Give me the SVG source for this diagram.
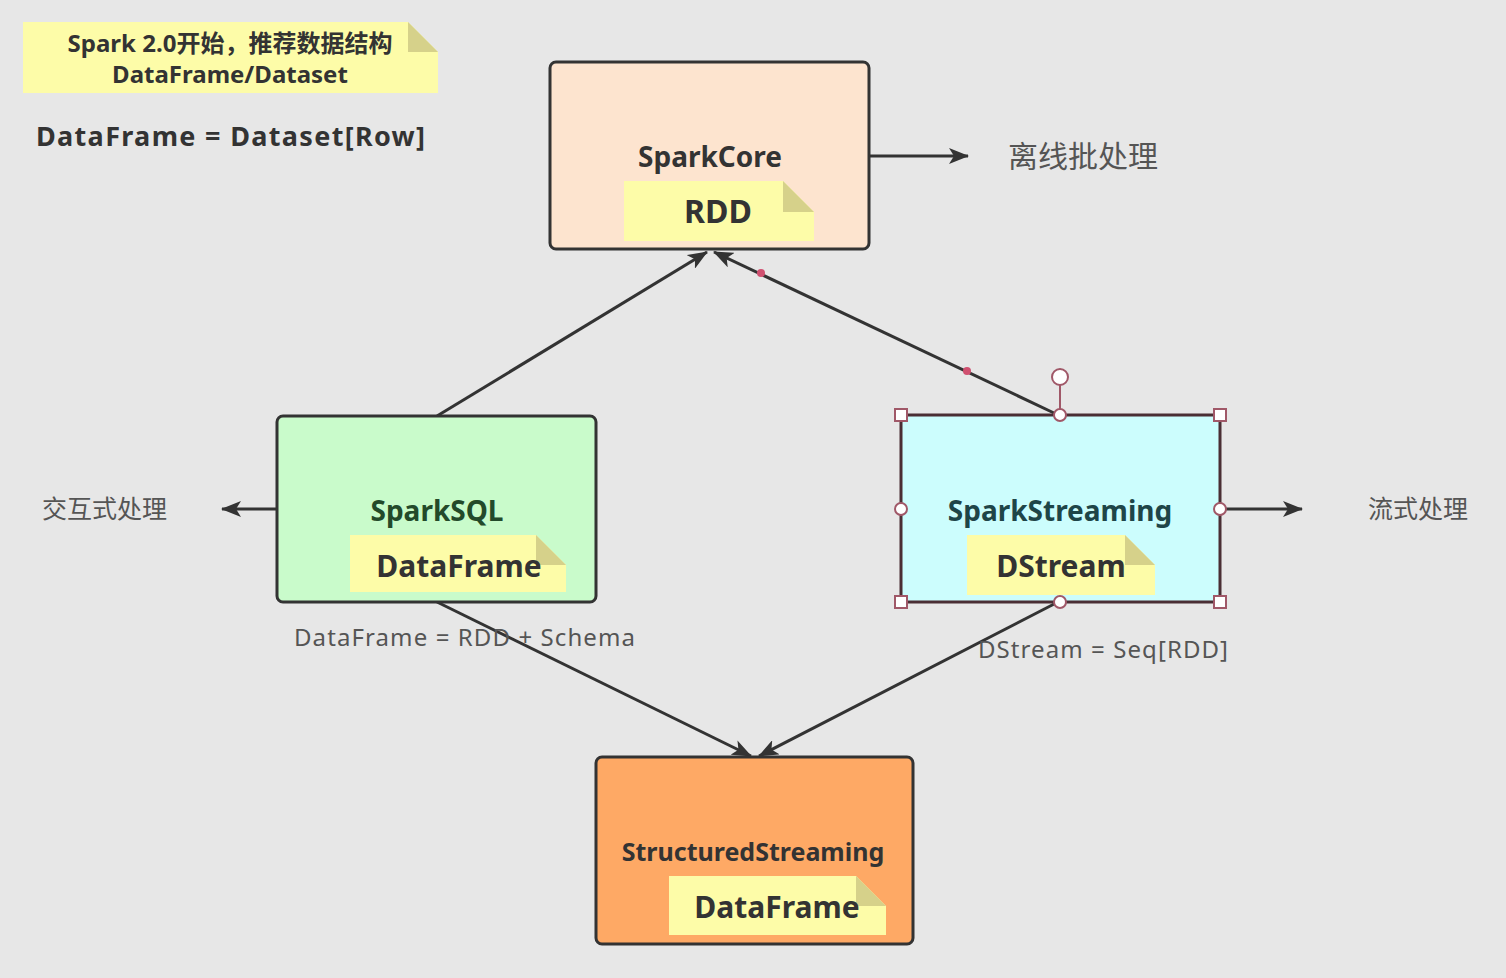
<svg xmlns="http://www.w3.org/2000/svg" width="1506" height="978" viewBox="0 0 1506 978">
<defs>
<style>
.box{stroke:#333;stroke-width:3}
.t{font-family:"Noto Sans","Noto Sans CJK SC",sans-serif;font-weight:bold;fill:#333;text-anchor:middle}
.cn{font-family:"Noto Sans CJK SC","Noto Sans",sans-serif;fill:#555;font-size:25px}
.lbl{font-family:"Noto Sans","Noto Sans CJK SC",sans-serif;fill:#555;font-size:24px}
.note{fill:#fdfca8}
.fold{fill:#d6d18a}
.con{stroke:#333;stroke-width:3;fill:none;marker-end:url(#ah)}
.hs{fill:#fff;stroke:#a05868;stroke-width:2}
</style>
<marker id="ah" viewBox="0 0 20 16" refX="19" refY="8" markerWidth="20" markerHeight="16" markerUnits="userSpaceOnUse" orient="auto">
<path d="M0,0 L20,8 L0,16 L5,8 Z" fill="#333"/>
</marker>
</defs>
<rect width="1506" height="978" fill="#e7e7e7"/>

<g id="note-top">
<path class="note" d="M23,22 H408 L438,52 V93 H23 Z"/>
<path class="fold" d="M408,22 L438,52 H408 Z"/>
<text class="t" x="230" y="52" font-size="24">Spark 2.0开始，推荐数据结构</text>
<text class="t" x="230" y="83" font-size="24">DataFrame/Dataset</text>
</g>
<g id="formula">
<text class="t" x="36" y="146" font-size="27" style="text-anchor:start" textLength="389" lengthAdjust="spacing">DataFrame = Dataset[Row]</text>
</g>

<g id="connectors">
<line class="con" x1="869" y1="156" x2="968" y2="156"/>
<line class="con" x1="277" y1="509" x2="222" y2="509"/>
<line class="con" x1="1220" y1="509" x2="1302" y2="509"/>
<line class="con" x1="437" y1="416" x2="707" y2="252"/>
<line class="con" x1="1054" y1="413" x2="714" y2="252"/>
<line class="con" x1="437" y1="602" x2="751" y2="756"/>
<line class="con" x1="1058" y1="602" x2="759" y2="756"/>
<circle cx="761" cy="273" r="4" fill="#d05070"/>
<circle cx="967" cy="371" r="4" fill="#d05070"/>
<text class="lbl" x="294" y="646" textLength="341" lengthAdjust="spacing">DataFrame = RDD + Schema</text>
<text class="lbl" x="978" y="658" textLength="250" lengthAdjust="spacing">DStream = Seq[RDD]</text>
</g>

<g id="sparkcore">
<rect class="box" x="550" y="62" width="319" height="187" rx="6" fill="#fde4cf"/>
<text class="t" x="710" y="167" font-size="28">SparkCore</text>
<path class="note" d="M624,181 H783 L814,212 V241 H624 Z"/>
<path class="fold" d="M783,181 L814,212 H783 Z"/>
<text class="t" x="718" y="223" font-size="32">RDD</text>
</g>
<text class="cn" x="1008" y="167" style="font-size:30px">离线批处理</text>

<g id="sparksql">
<rect class="box" x="277" y="416" width="319" height="186" rx="6" fill="#c9fbcb"/>
<text class="t" x="437" y="521" font-size="28" style="fill:#234a2a">SparkSQL</text>
<path class="note" d="M350,535 H536 L566,565 V592 H350 Z"/>
<path class="fold" d="M536,535 L566,565 H536 Z"/>
<text class="t" x="459" y="577" font-size="30">DataFrame</text>
</g>
<text class="cn" x="42" y="518">交互式处理</text>

<g id="sparkstreaming">
<rect x="901" y="415" width="319" height="187" fill="#ccfdfd" stroke="#4a2e34" stroke-width="3"/>
<text class="t" x="1060" y="521" font-size="28" style="fill:#1e4548">SparkStreaming</text>
<path class="note" d="M967,535 H1125 L1155,565 V595 H967 Z"/>
<path class="fold" d="M1125,535 L1155,565 H1125 Z"/>
<text class="t" x="1061" y="577" font-size="30">DStream</text>
<line x1="1060" y1="385" x2="1060" y2="409" stroke="#a05868" stroke-width="2"/>
<circle class="hs" cx="1060" cy="377" r="8"/>
<rect class="hs" x="895" y="409" width="12" height="12"/>
<rect class="hs" x="1214" y="409" width="12" height="12"/>
<rect class="hs" x="895" y="596" width="12" height="12"/>
<rect class="hs" x="1214" y="596" width="12" height="12"/>
<circle class="hs" cx="1060" cy="415" r="6"/>
<circle class="hs" cx="901" cy="509" r="6"/>
<circle class="hs" cx="1220" cy="509" r="6"/>
<circle class="hs" cx="1060" cy="602" r="6"/>
</g>
<text class="cn" x="1368" y="518">流式处理</text>

<g id="structuredstreaming">
<rect class="box" x="596" y="757" width="317" height="187" rx="6" fill="#fea965"/>
<text class="t" x="753" y="861" font-size="25">StructuredStreaming</text>
<path class="note" d="M669,876 H856 L886,906 V935 H669 Z"/>
<path class="fold" d="M856,876 L886,906 H856 Z"/>
<text class="t" x="777" y="918" font-size="30">DataFrame</text>
</g>
</svg>
